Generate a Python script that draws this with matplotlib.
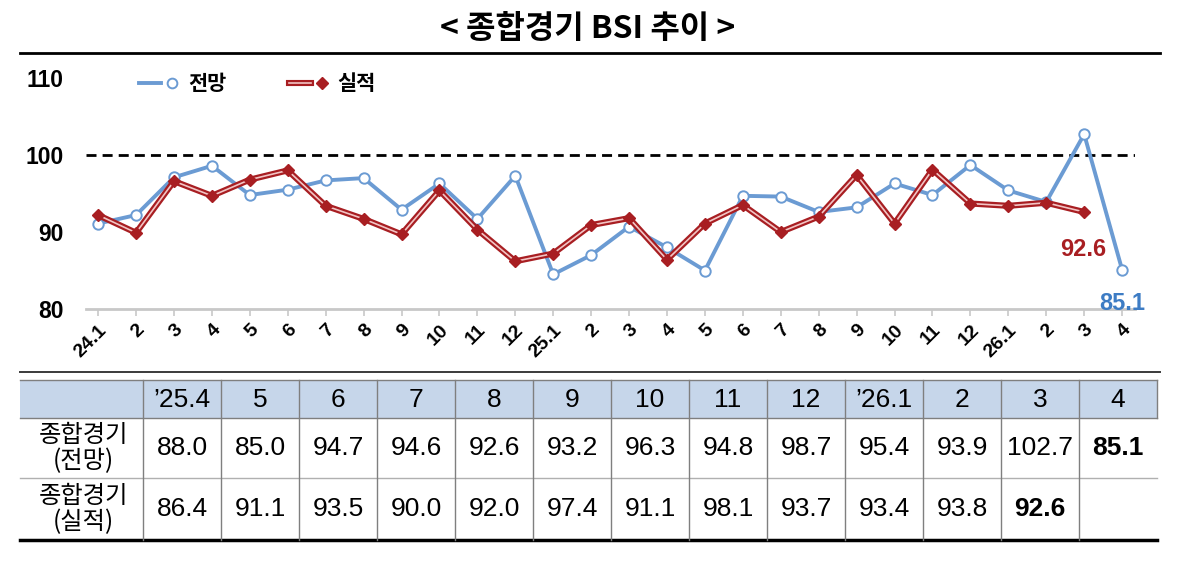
import matplotlib.pyplot as plt
import matplotlib.patheffects as pe
from matplotlib.lines import Line2D
from matplotlib.patches import Rectangle
from matplotlib.legend_handler import HandlerTuple

plt.rcParams['font.family'] = ['Liberation Sans', 'Noto Sans CJK KR', 'DejaVu Sans']

# ---------------------------------------------------------------------------
# data
# ---------------------------------------------------------------------------
months = ["24.1", "2", "3", "4", "5", "6", "7", "8", "9", "10", "11", "12",
          "25.1", "2", "3", "4", "5", "6", "7", "8", "9", "10", "11", "12",
          "26.1", "2", "3", "4"]
outlook = [91.1, 92.2, 97.1, 98.6, 94.8, 95.5, 96.7, 97.0, 92.9, 96.3, 91.7, 97.3,
           84.5, 87.0, 90.7, 88.0, 85.0, 94.7, 94.6, 92.6, 93.2, 96.3, 94.8, 98.7,
           95.4, 93.9, 102.7, 85.1]
actual = [92.2, 89.9, 96.6, 94.7, 96.8, 98.0, 93.4, 91.7, 89.7, 95.4, 90.3, 86.2,
          87.2, 90.9, 91.8, 86.4, 91.1, 93.5, 90.0, 92.0, 97.4, 91.1, 98.1, 93.7,
          93.4, 93.8, 92.6]
table_cols = ["\u201925.4", "5", "6", "7", "8", "9", "10", "11", "12",
              "\u201926.1", "2", "3", "4"]
row_labels = ["종합경기\n(전망)", "종합경기\n(실적)"]
series_names = ["전망", "실적"]

BLUE = "#6b9bd3"
RED = "#a81e22"
W, H = 1200, 585
NARROW = ["Liberation Sans Narrow", "Liberation Sans"]

fig = plt.figure(figsize=(12, 5.85), dpi=100)
fig.patch.set_facecolor("white")

# overlay in pixel coords for title + table
ov = fig.add_axes([0, 0, 1, 1])
ov.set_xlim(0, W)
ov.set_ylim(H, 0)
ov.axis("off")

ov.text(588, 29, "< 종합경기 BSI 추이 >", ha="center", va="center",
        fontsize=23, fontweight="bold",
        family=["Noto Sans CJK KR", "DejaVu Sans"])
ov.plot([20, 1160], [53, 53], color="black", lw=2.0)

# ---------------------------------------------------------------------------
# line chart
# ---------------------------------------------------------------------------
ax = fig.add_axes([86 / W, (H - 309) / H, 1049 / W, (309 - 78) / H])
x = list(range(len(months)))
xa = x[:len(actual)]

ax.axhline(100, color="black", lw=2.0, dashes=(3.6, 2.2), zorder=1)

ax.plot(x, outlook, color=BLUE, lw=2.8, zorder=3)
ax.plot(x, outlook, ls="none", marker="o", ms=7.5, mfc="white",
        mec=BLUE, mew=1.4, zorder=4)

ax.plot(xa, actual, color="#f2c4c4", lw=1.2, zorder=5,
        path_effects=[pe.Stroke(linewidth=4.4, foreground=RED), pe.Normal()])
ax.plot(xa, actual, ls="none", marker="D", ms=6.5, color=RED, zorder=6)

ax.annotate(f"{actual[-1]:.1f}", (xa[-1], actual[-1]), xytext=(-1, -27),
            textcoords="offset points", ha="center", va="center",
            color=RED, fontsize=17, fontweight="bold", family=NARROW)
ax.annotate(f"{outlook[-1]:.1f}", (x[-1], outlook[-1]), xytext=(0, -24),
            textcoords="offset points", ha="center", va="center",
            color="#3d7cc4", fontsize=17, fontweight="bold", family=NARROW)

ax.set_xlim(-0.32, 27.34)
ax.set_ylim(80, 110)
ax.set_yticks([80, 90, 100, 110])
ax.set_xticks(x)
ax.set_xticklabels(months, rotation=45, ha="right", va="top",
                   rotation_mode="anchor")
for s in ["top", "right", "left"]:
    ax.spines[s].set_visible(False)
ax.spines["bottom"].set_color("#c8c8c8")
ax.spines["bottom"].set_linewidth(2.0)
ax.tick_params(axis="x", colors="#c8c8c8", length=5, width=1.2, pad=4)
ax.tick_params(axis="y", length=0, pad=16)
for lab in ax.get_xticklabels():
    lab.set_color("black")
    lab.set_fontsize(14)
    lab.set_fontweight("bold")
    lab.set_family(NARROW)
for lab in ax.get_yticklabels():
    lab.set_fontsize(16.5)
    lab.set_fontweight("bold")
    lab.set_family(NARROW)
ax.patch.set_alpha(0)

h_out = (Line2D([], [], color=BLUE, lw=2.8),
         Line2D([], [], ls="none", marker="o", ms=7, mfc="white", mec=BLUE, mew=1.4))
h_act = (Line2D([], [], color="#f2c4c4", lw=1.2,
                path_effects=[pe.Stroke(linewidth=4.4, foreground=RED), pe.Normal()]),
         Line2D([], [], ls="none", marker="D", ms=6.5, color=RED))
ax.legend([h_out, h_act], series_names, handler_map={tuple: HandlerTuple(ndivide=None)},
          loc="upper left", bbox_to_anchor=(139 / W, (H - 73) / H),
          bbox_transform=fig.transFigure, ncol=2, frameon=False,
          handlelength=2.1, handletextpad=0.25, columnspacing=3.0,
          borderpad=0, borderaxespad=0,
          prop={"family": ["Noto Sans CJK KR"], "weight": "bold", "size": 15})

# ---------------------------------------------------------------------------
# table
# ---------------------------------------------------------------------------
left, col0, cw = 20, 143, 78
right = col0 + cw * len(table_cols)
ytop, yh, y1, y2 = 380, 418, 478, 540

ov.plot([20, 1160], [372, 372], color="#3a3a3a", lw=1.4)
ov.add_patch(Rectangle((left, ytop), right - left, yh - ytop,
                       facecolor="#c6d6ea", edgecolor="none"))
ov.plot([left, right], [ytop, ytop], color="#7f7f7f", lw=1.0)
ov.plot([left, right], [yh, yh], color="#7f7f7f", lw=1.0)
ov.plot([left, right], [y1, y1], color="#b0b0b0", lw=1.0)
ov.plot([left, right], [y2, y2], color="black", lw=2.5)
for i in range(len(table_cols)):
    xd = col0 + cw * i
    ov.plot([xd, xd], [ytop, y2], color="#7f7f7f", lw=1.0)
ov.plot([right, right], [ytop, yh], color="#7f7f7f", lw=1.0)

tfont = ["Liberation Sans", "DejaVu Sans"]
for i, lab in enumerate(table_cols):
    ov.text(col0 + cw * (i + 0.5), (ytop + yh) / 2 + 1, lab, ha="center",
            va="center", fontsize=19, family=tfont)

n = len(table_cols)
rows = [outlook[-n:], actual[-(n - 1):]]
for r, (vals, ylo, yhi) in enumerate(zip(rows, [yh, y1], [y1, y2])):
    yc = (ylo + yhi) / 2
    ov.text((left + col0) / 2 + 2, yc, row_labels[r], ha="center", va="center",
            fontsize=17.5, linespacing=1.0,
            family=["Noto Sans CJK KR", "DejaVu Sans"])
    for i, v in enumerate(vals):
        bold = (r == 0 and i == n - 1) or (r == 1 and i == n - 2)
        ov.text(col0 + cw * (i + 0.5), yc, f"{v:.1f}", ha="center",
                va="center", fontsize=19, family=tfont,
                fontweight="bold" if bold else "normal")

fig.savefig("out.png", dpi=100, facecolor="white")
